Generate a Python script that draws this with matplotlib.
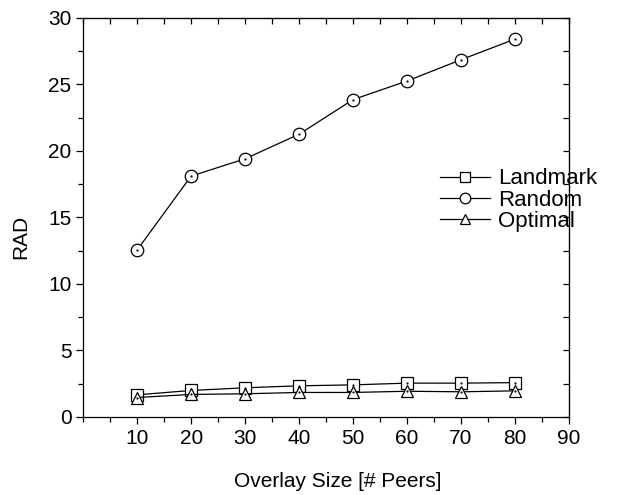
import matplotlib.pyplot as plt
from matplotlib.ticker import MultipleLocator, NullFormatter

plt.rcParams['font.family'] = ['Liberation Sans', 'DejaVu Sans']

# data
sizes = [10, 20, 30, 40, 50, 60, 70, 80]
landmark = [1.65, 1.98, 2.18, 2.33, 2.4, 2.53, 2.53, 2.57]
random_ = [12.55, 18.1, 19.4, 21.25, 23.85, 25.25, 26.85, 28.4]
optimal = [1.45, 1.68, 1.73, 1.83, 1.83, 1.92, 1.88, 1.95]

fig = plt.figure(figsize=(6.4, 4.95), dpi=100)
ax = fig.add_axes([0.13, 0.158, 0.759, 0.806])

series = [(landmark, 's', 'Landmark'), (random_, 'o', 'Random'), (optimal, '^', 'Optimal')]
for vals, mk, name in series:
    ax.plot(sizes, vals, color='black', lw=0.9, marker=mk, markersize=9,
            markerfacecolor='white', markeredgecolor='black', markeredgewidth=0.9, label=name)
    # small centre dot like the original
    ax.plot(sizes, vals, ls='none', marker='.', markersize=1.2, color='black')

ax.set_xlim(0, 90)
ax.set_ylim(0, 30)
ax.xaxis.set_major_locator(MultipleLocator(10))
ax.xaxis.set_minor_locator(MultipleLocator(5))
ax.yaxis.set_major_locator(MultipleLocator(5))
ax.yaxis.set_minor_locator(MultipleLocator(2.5))
ax.set_xticks(range(10, 91, 10))
ax.tick_params(which='both', direction='out', labelsize=15, width=0.9)
ax.tick_params(which='major', length=5)
ax.tick_params(which='minor', length=3.5)
for s in ax.spines.values():
    s.set_linewidth(0.9)

# top and right ticks point inward
top = ax.secondary_xaxis('top')
top.xaxis.set_major_locator(MultipleLocator(5))
top.xaxis.set_major_formatter(NullFormatter())
top.tick_params(direction='in', length=4, width=0.9)
right = ax.secondary_yaxis('right')
right.yaxis.set_major_locator(MultipleLocator(2.5))
right.yaxis.set_major_formatter(NullFormatter())
right.tick_params(direction='in', length=4, width=0.9)

ax.set_xlabel('Overlay Size [# Peers]', fontsize=15)
ax.xaxis.set_label_coords(0.525, -0.163)
ax.xaxis.label.set_va('center')
ax.set_ylabel('RAD', fontsize=15)
ax.yaxis.set_label_coords(-0.128, 0.45)
ax.yaxis.label.set_va('center')

ax.legend(loc='upper left', bbox_to_anchor=(0.6875, 0.66), bbox_transform=fig.transFigure,
          frameon=False, fontsize=16, handlelength=2.25, handletextpad=0.35,
          labelspacing=0.02, markerscale=0.85, borderpad=0, borderaxespad=0)

plt.savefig('out.png')
